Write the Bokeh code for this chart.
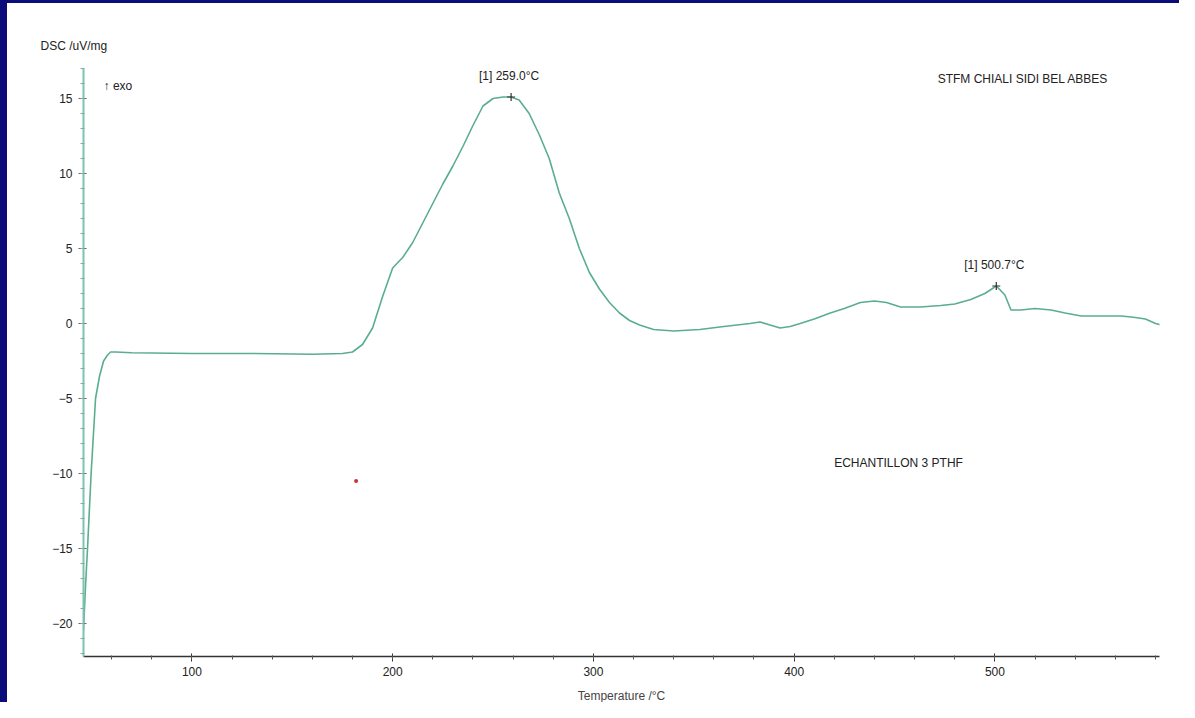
from bokeh.plotting import figure
from bokeh.models import Range1d, FixedTicker, Label, ColumnDataSource, Title
from bokeh.embed import file_html
from bokeh.resources import INLINE

# ---- data ----
temperature = [46, 47, 48, 49.8, 52, 54, 56, 58, 59.5, 62, 70, 100, 130, 160, 175,
               180, 185, 190, 195, 200, 205, 210, 215, 220, 225, 230, 235, 240, 245,
               250, 255, 259, 263, 268, 273, 278, 283, 288, 293, 298, 303, 308, 313,
               318, 323, 330, 340, 353, 365, 378, 383, 388, 393, 398, 403, 410, 418,
               425, 433, 440, 446, 453, 463, 473, 480, 488, 495, 500.7, 505, 508, 513,
               520, 528, 535, 543, 553, 563, 570, 575, 580, 583]
dsc = [-20.5, -17.5, -15.0, -10.0, -5.0, -3.5, -2.5, -2.1, -1.9, -1.9, -1.95, -2.0, -2.0, -2.05, -2.0,
       -1.9, -1.4, -0.3, 1.8, 3.7, 4.4, 5.4, 6.7, 8.0, 9.3, 10.5, 11.8, 13.2, 14.5,
       15.0, 15.1, 15.1, 14.9, 14.0, 12.6, 11.0, 8.7, 7.0, 5.0, 3.4, 2.3, 1.4, 0.7,
       0.2, -0.1, -0.4, -0.5, -0.4, -0.2, 0.0, 0.1, -0.1, -0.3, -0.2, 0.0, 0.3, 0.7,
       1.0, 1.4, 1.5, 1.4, 1.1, 1.1, 1.2, 1.3, 1.6, 2.0, 2.5, 1.9, 0.9, 0.9,
       1.0, 0.9, 0.7, 0.5, 0.5, 0.5, 0.4, 0.3, 0.0, -0.1]
peak_t = [259.0, 500.7]
peak_v = [15.1, 2.5]
peak_labels = ["[1] 259.0°C", "[1] 500.7°C"]
x_ticks = [100, 200, 300, 400, 500]
y_ticks = [-20, -15, -10, -5, 0, 5, 10, 15]
stray_t = [181.8]
stray_v = [-10.5]

FONT = "Liberation Sans"

p = figure(width=1179, height=702, output_backend="svg", toolbar_location=None,
           x_range=Range1d(46, 582), y_range=Range1d(-22.2, 17.0),
           min_border_left=76, min_border_right=27, min_border_top=65, min_border_bottom=40)
p.styles = {"border-top": "3px solid #0b0b7a", "border-left": "7px solid #0b0b7a",
            "box-sizing": "border-box"}
p.background_fill_color = "white"
p.border_fill_color = "white"
p.outline_line_color = None
p.grid.visible = False

t = Title(text="DSC /uV/mg", align="left", offset=-43, standoff=31,
          text_font=FONT, text_font_size="12px", text_font_style="normal",
          text_color="#222222")
p.add_layout(t, "above")

# axes
p.xaxis.ticker = FixedTicker(ticks=x_ticks,
                             minor_ticks=[v for v in range(60, 581, 20)])
p.yaxis.ticker = FixedTicker(ticks=y_ticks,
                             minor_ticks=[v for v in range(-22, 18)])
for ax in (p.xaxis[0], p.yaxis[0]):
    ax.major_label_text_font = FONT
    ax.major_label_text_font_size = "12px"
    ax.major_label_text_color = "#222222"
    ax.major_tick_in = 3
    ax.major_tick_out = 5
    ax.minor_tick_in = 1
    ax.minor_tick_out = 3
p.xaxis.axis_line_color = "#333333"
p.xaxis.axis_line_width = 1.5
p.xaxis.major_tick_line_color = "#333333"
p.xaxis.minor_tick_line_color = "#555555"
p.xaxis.axis_label = "Temperature /°C"
p.xaxis.axis_label_text_font = FONT
p.xaxis.axis_label_text_font_size = "12px"
p.xaxis.axis_label_text_font_style = "normal"
p.xaxis.axis_label_standoff = 10
p.yaxis.axis_line_color = "#7cc4b0"
p.yaxis.axis_line_width = 2
p.yaxis.major_tick_line_color = "#666666"
p.yaxis.minor_tick_line_color = "#8aa"
p.yaxis.major_label_standoff = 6

# curve
src = ColumnDataSource(dict(t=temperature, v=dsc))
p.line("t", "v", source=src, line_color="#5aae8e", line_width=1.6)
p.scatter(peak_t, peak_v, marker="cross", size=8, line_color="#333333", line_width=1.2)
p.scatter(stray_t, stray_v, marker="circle", size=4, fill_color="#d03030", line_color=None)

# peak labels
for tt, v, s in zip(peak_t, peak_v, peak_labels):
    p.add_layout(Label(x=tt, y=v, text=s, x_offset=-2, y_offset=14, text_align="center",
                       text_font=FONT, text_font_size="12px", text_color="#222222"))

# annotations
p.add_layout(Label(x=56, y=15.85, text="↑ exo", text_font=FONT,
                   text_font_size="12px", text_color="#222222", text_baseline="middle"))
p.add_layout(Label(x=514, y=16.3, text="STFM CHIALI SIDI BEL ABBES", text_font=FONT,
                   text_font_size="12px", text_color="#222222", text_align="center",
                   text_baseline="middle"))
p.add_layout(Label(x=452, y=-9.3, text="ECHANTILLON 3 PTHF", text_font=FONT,
                   text_font_size="12px", text_color="#222222", text_align="center",
                   text_baseline="middle"))

open("out.html", "w").write(file_html(p, INLINE))
